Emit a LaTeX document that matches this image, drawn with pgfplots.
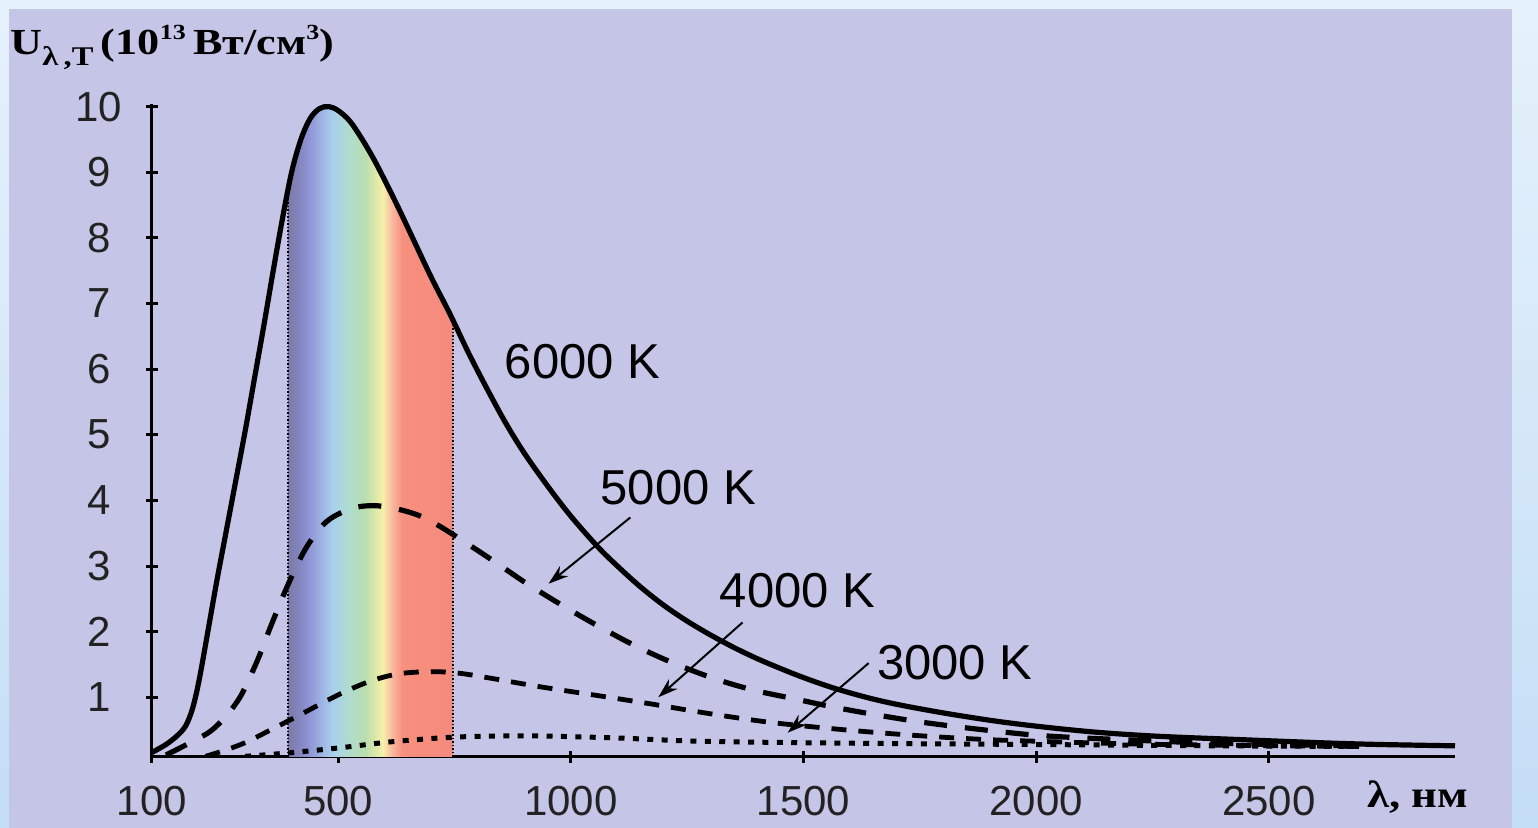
\documentclass[border=0pt]{standalone}
\usepackage{fontspec}
\setmainfont{Liberation Sans}
\newfontfamily\serifb{Liberation Serif}
\usepackage{pgfplots}
\pgfplotsset{compat=1.18}
\usetikzlibrary{arrows.meta}
\definecolor{bg}{HTML}{C5C5E8}
\definecolor{edgetop}{HTML}{E6F2FC}
\definecolor{edgebot}{HTML}{C4DEF6}
\definecolor{ticktxt}{HTML}{222222}
\definecolor{s1}{HTML}{7C7AA6}
\definecolor{s2}{HTML}{8284BC}
\definecolor{s3}{HTML}{8E92D4}
\definecolor{s4}{HTML}{9CB0E2}
\definecolor{s5}{HTML}{A8D0EC}
\definecolor{s6}{HTML}{B0DCCC}
\definecolor{s7}{HTML}{B8DEB0}
\definecolor{s8}{HTML}{DCE8A8}
\definecolor{s9}{HTML}{F6F0A8}
\definecolor{s10}{HTML}{F8B8A0}
\definecolor{s11}{HTML}{F8907E}
\definecolor{s12}{HTML}{F48A7C}
\pgfdeclarehorizontalshading{spectrum}{100bp}{color(0bp)=(s1); color(25bp)=(s1); color(28bp)=(s2); color(31bp)=(s3); color(34.7bp)=(s4); color(38.6bp)=(s5); color(43.8bp)=(s6); color(48.3bp)=(s7); color(51.4bp)=(s8); color(53.8bp)=(s9); color(56.5bp)=(s10); color(59.5bp)=(s11); color(75bp)=(s12); color(100bp)=(s12)}
\begin{document}
\begin{tikzpicture}[x=0.5pt,y=0.5pt]
\path[use as bounding box] (0,0) rectangle (1538,828);
\shade[top color=edgetop, bottom color=edgebot] (0,0) rectangle (1538,828);
\fill[bg] (9,0) rectangle (1512,819);
\begin{axis}[
  at={(76pt,35.5pt)}, anchor=south west, scale only axis,
  width=651.5pt, height=326.5pt,
  xmin=100, xmax=2900, ymin=0.09, ymax=10.04,
  axis x line*=bottom, axis y line*=left,
  axis line style={line width=1.5pt, black, -},
  tickpos=left, tick align=center, major tick length=6pt,
  tick style={line width=1.5pt, black},
  xtick={100,500,1000,1500,2000,2500},
  xticklabels={100,500,1000,1500,2000,2500},
  ytick={1,2,3,4,5,6,7,8,9,10},
  yticklabels={1,2,3,4,5,6,7,8,9,10},
  tick label style={font=\fontsize{21}{24}\selectfont, text=ticktxt},
  xticklabel style={anchor=center, yshift=-19pt},
  yticklabel style={anchor=center, xshift=-23.5pt},
  clip=true,
]
% visible spectrum band under the 6000 K curve
\addplot[draw=none, shade, shading=spectrum] coordinates {
 (392,0.09) (392,8.68) (400,9.00) (420,9.50) (440,9.82) (460,9.97) (480,10.0) (500,9.94) (525,9.78) (550,9.52) (575,9.22) (600,8.88) (630,8.45) (660,8.00) (700,7.40) (741,6.83) (747,6.74) (747,0.09)
} -- cycle;
% band edges
\addplot[black, line width=0.75pt, dash pattern=on 0.75pt off 1pt] coordinates {(392,0.09) (392,8.68)};
\addplot[black, line width=0.75pt, dash pattern=on 0.75pt off 1pt] coordinates {(747,0.09) (747,6.74)};
% 3000 K
\addplot[black, line width=2.5pt, dash pattern=on 3pt off 4.2pt, smooth, tension=0.5] coordinates {
 (300,0.10) (390,0.15) (504,0.23) (612,0.32) (741,0.39) (850,0.41) (934,0.41) (1100,0.38) (1278,0.33) (1600,0.30) (2000,0.28) (2400,0.26) (2700,0.25)
};
% 4000 K
\addplot[black, line width=2.4pt, dash pattern=on 7.5pt off 6pt, smooth, tension=0.55] coordinates {
 (215,0.10) (260,0.20) (304,0.32) (354,0.50) (412,0.71) (468,0.92) (519,1.10) (575,1.26) (633,1.36) (698,1.39) (756,1.37) (820,1.30) (934,1.16) (1063,1.02) (1171,0.90) (1272,0.78) (1364,0.68) (1450,0.60) (1595,0.50) (1737,0.42) (1880,0.36) (2000,0.33) (2200,0.29) (2400,0.27) (2700,0.25)
};
% 5000 K
\addplot[black, line width=2.6pt, dash pattern=on 11.5pt off 9pt, smooth, tension=0.55] coordinates {
 (130,0.12) (180,0.30) (225,0.48) (260,0.72) (289,1.00) (310,1.30) (330,1.62) (354,2.06) (390,2.68) (425,3.20) (455,3.52) (483,3.72) (530,3.88) (575,3.92) (620,3.88) (670,3.78) (710,3.64) (747,3.48) (812,3.18) (860,2.95) (906,2.73) (977,2.42) (1050,2.12) (1134,1.80) (1214,1.54) (1306,1.29) (1392,1.11) (1478,0.98) (1565,0.85) (1650,0.74) (1745,0.63) (1831,0.55) (1917,0.48) (2003,0.42) (2100,0.38) (2200,0.35) (2300,0.32) (2400,0.30) (2500,0.28) (2600,0.27) (2700,0.26)
};
% 6000 K
\addplot[black, line width=2.6pt, smooth, tension=0.55] coordinates {
 (100,0.16) (130,0.28) (155,0.42) (172,0.56) (185,0.78) (195,1.05) (205,1.40) (220,2.00) (240,2.80) (260,3.55) (280,4.30) (300,5.05) (320,5.85) (340,6.65) (360,7.48) (380,8.28) (400,9.00) (420,9.50) (440,9.82) (460,9.97) (480,10.0) (500,9.94) (525,9.78) (550,9.52) (575,9.22) (600,8.88) (630,8.45) (660,8.00) (700,7.40) (741,6.83) (780,6.25) (820,5.70) (860,5.18) (900,4.72) (950,4.22) (1000,3.76) (1057,3.30) (1100,3.00) (1150,2.68) (1200,2.40) (1250,2.16) (1300,1.95) (1350,1.76) (1400,1.59) (1450,1.44) (1500,1.30) (1565,1.14) (1640,0.99) (1709,0.88) (1810,0.75) (1920,0.63) (2025,0.54) (2125,0.47) (2225,0.42) (2311,0.39) (2420,0.36) (2526,0.33) (2640,0.30) (2741,0.28) (2900,0.26)
};
% labels and arrows
\node[inner sep=0, font=\fontsize{24.5}{28}\selectfont] at (axis cs:1025,6.12) {6000 K};
\node[inner sep=0, font=\fontsize{24.5}{28}\selectfont] at (axis cs:1231,4.19) {5000 K};
\node[inner sep=0, font=\fontsize{24.5}{28}\selectfont] at (axis cs:1487,2.63) {4000 K};
\node[inner sep=0, font=\fontsize{24.5}{28}\selectfont] at (axis cs:1825,1.53) {3000 K};
\draw[line width=1pt, -{Stealth[length=10pt,width=6.5pt]}] (axis cs:1128,3.74) -- (axis cs:952,2.73);
\draw[line width=1pt, -{Stealth[length=10pt,width=6.5pt]}] (axis cs:1369,2.14) -- (axis cs:1188,1.00);
\draw[line width=1pt, -{Stealth[length=10pt,width=6.5pt]}] (axis cs:1640,1.52) -- (axis cs:1466,0.46);
\end{axis}
\node[anchor=base west, inner sep=0] at (10,773)
 {\scalebox{1.3}[1.08]{\serifb\bfseries\fontsize{17}{20}\selectfont U\raisebox{-5pt}{\fontsize{12.5}{14}\selectfont λ\,,T}\,(10\raisebox{7pt}{\fontsize{10}{12}\selectfont 13}\,Вт/см\raisebox{7pt}{\fontsize{10}{12}\selectfont 3})}};
\node[anchor=base west, inner sep=0] at (1367,20)
 {\scalebox{1.18}[1]{\serifb\bfseries\fontsize{19}{22}\selectfont λ, нм}};
\end{tikzpicture}
\end{document}
